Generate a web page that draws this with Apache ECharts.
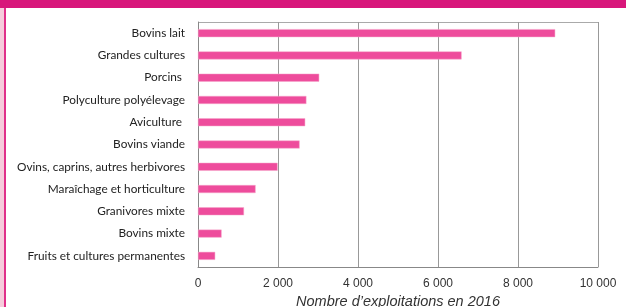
<!DOCTYPE html>
<html>
<head>
<meta charset="utf-8">
<script src="https://cdn.jsdelivr.net/npm/echarts@6/dist/echarts.min.js"></script>
<style>
  html, body { margin: 0; padding: 0; background: #fff; }
  #chart { width: 626px; height: 307px; }
</style>
</head>
<body>
<div id="chart"></div>
<script>
// categories, top to bottom
var categories = [
  "Bovins lait",
  "Grandes cultures",
  "Porcins ",
  "Polyculture polyélevage",
  "Aviculture ",
  "Bovins viande",
  "Ovins, caprins, autres herbivores",
  "Maraîchage et horticulture",
  "Granivores mixte",
  "Bovins mixte",
  "Fruits et cultures permanentes"
];
// number of farms in 2016
var values = [8930, 6590, 3030, 2710, 2680, 2540, 1990, 1440, 1150, 590, 430];
var xTicks = [0, 2000, 4000, 6000, 8000, 10000];

var chart = echarts.init(document.getElementById("chart"));

//format numbers with space separator
function fmt(v) {
  return String(v).replace(/\B(?=(\d{3})+(?!\d))/g, " ");
}

var option = {
  animation: false,
  backgroundColor: "#fff",
  grid: { left: 198, right: 28, top: 22, bottom: 40, outerBoundsMode: "none", containLabel: false },
  graphic: [
    { type: "rect", shape: { x: 0, y: 0, width: 626, height: 8 }, style: { fill: "#D8177B" } },
    { type: "rect", shape: { x: 0, y: 8, width: 4, height: 299 }, style: { fill: "#F6CCDC" } },
    { type: "rect", shape: { x: 4, y: 8, width: 2, height: 299 }, style: { fill: "#E0308A" } },
    { type: "line", shape: { x1: 198, y1: 22.5, x2: 598, y2: 22.5 }, style: { stroke: "#aaa", lineWidth: 1 } }
  ],
  xAxis: {
    type: "value",
    min: xTicks[0],
    max: xTicks[xTicks.length - 1],
    interval: 2000,
    name: "Nombre d’exploitations en 2016",
    nameLocation: "middle",
    nameGap: 25,
    nameTextStyle: { fontFamily: "Liberation Sans", fontStyle: "italic", fontSize: 14.5, color: "#333" },
    axisLine: { show: true, lineStyle: { color: "#888" } },
    axisTick: { show: false },
    axisLabel: {
      margin: 11,
      fontFamily: "Liberation Sans",
      fontSize: 12,
      color: "#333",
      formatter: fmt
    },
    splitLine: { show: true, lineStyle: { color: "#999", width: 1 } }
  },
  yAxis: {
    type: "category",
    inverse: true,
    data: categories,
    axisLine: { show: true, lineStyle: { color: "#888" } },
    axisTick: { show: false },
    axisLabel: { margin: 13, fontFamily: "Lato", fontSize: 11.8, color: "#222" }
  },
  series: [{
    type: "bar",
    data: values,
    barWidth: 8,
    itemStyle: { color: "#EE4C9C", borderColor: "#F7A6CB", borderWidth: 0.5 }
  }]
};
chart.setOption(option);
</script>
</body>
</html>
